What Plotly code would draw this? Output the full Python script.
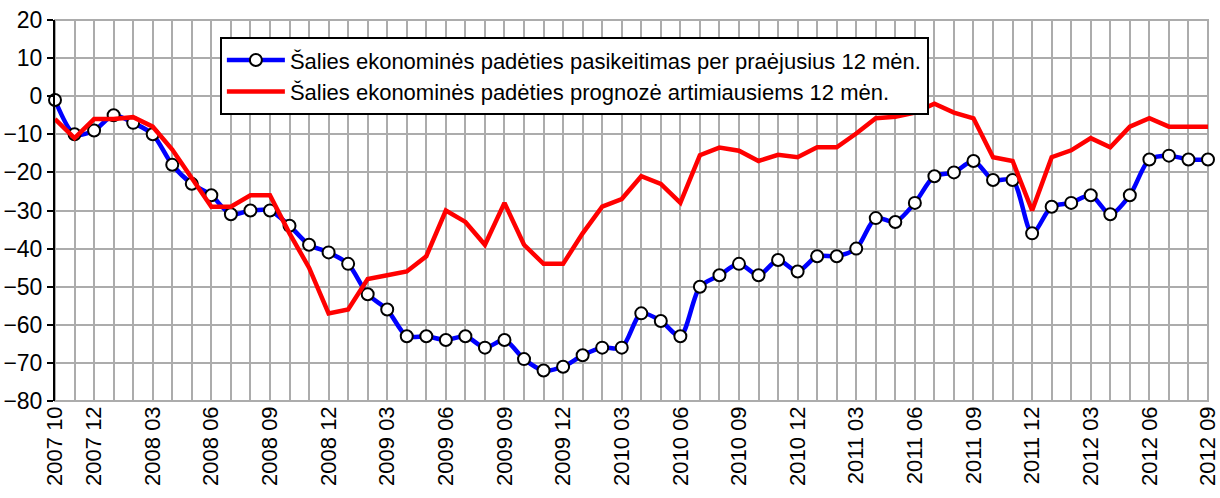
import plotly.graph_objects as go

months = [
    "2007 10", "2007 11", "2007 12",
    "2008 01", "2008 02", "2008 03", "2008 04", "2008 05", "2008 06",
    "2008 07", "2008 08", "2008 09", "2008 10", "2008 11", "2008 12",
    "2009 01", "2009 02", "2009 03", "2009 04", "2009 05", "2009 06",
    "2009 07", "2009 08", "2009 09", "2009 10", "2009 11", "2009 12",
    "2010 01", "2010 02", "2010 03", "2010 04", "2010 05", "2010 06",
    "2010 07", "2010 08", "2010 09", "2010 10", "2010 11", "2010 12",
    "2011 01", "2011 02", "2011 03", "2011 04", "2011 05", "2011 06",
    "2011 07", "2011 08", "2011 09", "2011 10", "2011 11", "2011 12",
    "2012 01", "2012 02", "2012 03", "2012 04", "2012 05", "2012 06",
    "2012 07", "2012 08", "2012 09",
]

tick_labels = [
    "2007 10", "2007 12", "2008 03", "2008 06", "2008 09", "2008 12",
    "2009 03", "2009 06", "2009 09", "2009 12", "2010 03", "2010 06",
    "2010 09", "2010 12", "2011 03", "2011 06", "2011 09", "2011 12",
    "2012 03", "2012 06", "2012 09",
]

change_past = [
    -1, -10, -9, -5, -7, -10, -18, -23, -26, -31, -30, -30,
    -34, -39, -41, -44, -52, -56, -63, -63, -64, -63, -66, -64,
    -69, -72, -71, -68, -66, -66, -57, -59, -63, -50, -47, -44,
    -47, -43, -46, -42, -42, -40, -32, -33, -28, -21, -20, -17,
    -22, -22, -36, -29, -28, -26, -31, -26, -16.6, -15.6, -16.6, -16.6,
]

forecast_next = [
    -6, -11, -6, -6, -5.5, -8, -14, -21.5, -29, -29, -26, -26,
    -36, -45, -57, -56, -48, -47, -46, -42, -30, -33, -39, -28,
    -39, -44, -44, -36, -29, -27, -21, -23, -28, -15.5, -13.5, -14.3,
    -17, -15.4, -16, -13.4, -13.4, -9.8, -5.8, -5.4, -4.3, -2, -4.3, -5.8,
    -16, -17, -30, -16, -14.2, -11, -13.4, -8, -5.8, -8, -8, -8,
]

series_names = [
    "Šalies ekonominės padėties pasikeitimas per praėjusius 12 mėn.",
    "Šalies ekonominės padėties prognozė artimiausiems 12 mėn.",
]

font_family = "Liberation Sans, Arial, sans-serif"
grid_col = "#acacac"

fig = go.Figure()

fig.add_trace(go.Scatter(
    x=months, y=change_past, name=series_names[0],
    mode="lines+markers",
    line=dict(color="#0000ff", width=4.5, shape="spline", smoothing=0.8),
    marker=dict(symbol="circle", size=12, color="white",
                line=dict(color="black", width=2)),
    cliponaxis=False,
))

fig.add_trace(go.Scatter(
    x=months, y=forecast_next, name=series_names[1],
    mode="lines",
    line=dict(color="#ff0000", width=4.5),
    cliponaxis=False,
))

ticktext = [m if m in tick_labels else "" for m in months]

fig.update_layout(
    width=1220, height=498,
    margin=dict(l=55, r=12, t=20, b=97, autoexpand=False),
    paper_bgcolor="white", plot_bgcolor="white",
    font=dict(family=font_family, size=22, color="black"),
    showlegend=True,
    legend=dict(
        x=0.143, y=0.955, xanchor="left", yanchor="top",
        bgcolor="white", bordercolor="black", borderwidth=2,
        font=dict(size=22), itemwidth=58, tracegroupgap=0,
    ),
    xaxis=dict(
        type="category", range=[0, len(months) - 1],
        tickmode="array", tickvals=months, ticktext=ticktext,
        tickangle=-90, ticks="", showgrid=True,
        gridcolor=grid_col, gridwidth=2,
        showline=False, zeroline=False, automargin=False,
        ticklabeloverflow="allow",
        tickfont=dict(size=22),
    ),
    xaxis2=dict(
        overlaying="x", anchor="free", position=0.8,
        range=[0, len(months) - 1], tick0=0, dtick=1,
        showline=True, linecolor="black", linewidth=2,
        ticks="outside", ticklen=5, tickwidth=2, tickcolor="black",
        showticklabels=False, showgrid=False, zeroline=False,
        automargin=False,
    ),
    yaxis=dict(
        range=[-80, 20], dtick=10, tick0=0,
        showgrid=True, gridcolor=grid_col, gridwidth=2,
        showline=True, linecolor="black", linewidth=2,
        ticks="outside", ticklen=6, tickwidth=2, tickcolor="black",
        zeroline=False, automargin=False, ticklabeloverflow="allow",
        tickfont=dict(size=23),
    ),
    shapes=[dict(
        type="rect", xref="paper", yref="paper", x0=0, x1=1, y0=0, y1=1,
        line=dict(color=grid_col, width=2), layer="below",
    )],
)

# drop the default 8px body margin so the figure fills the window
fig.write_html(
    "out.html",
    config={"displayModeBar": False},
    post_script="document.body.style.margin = '0px';",
)
